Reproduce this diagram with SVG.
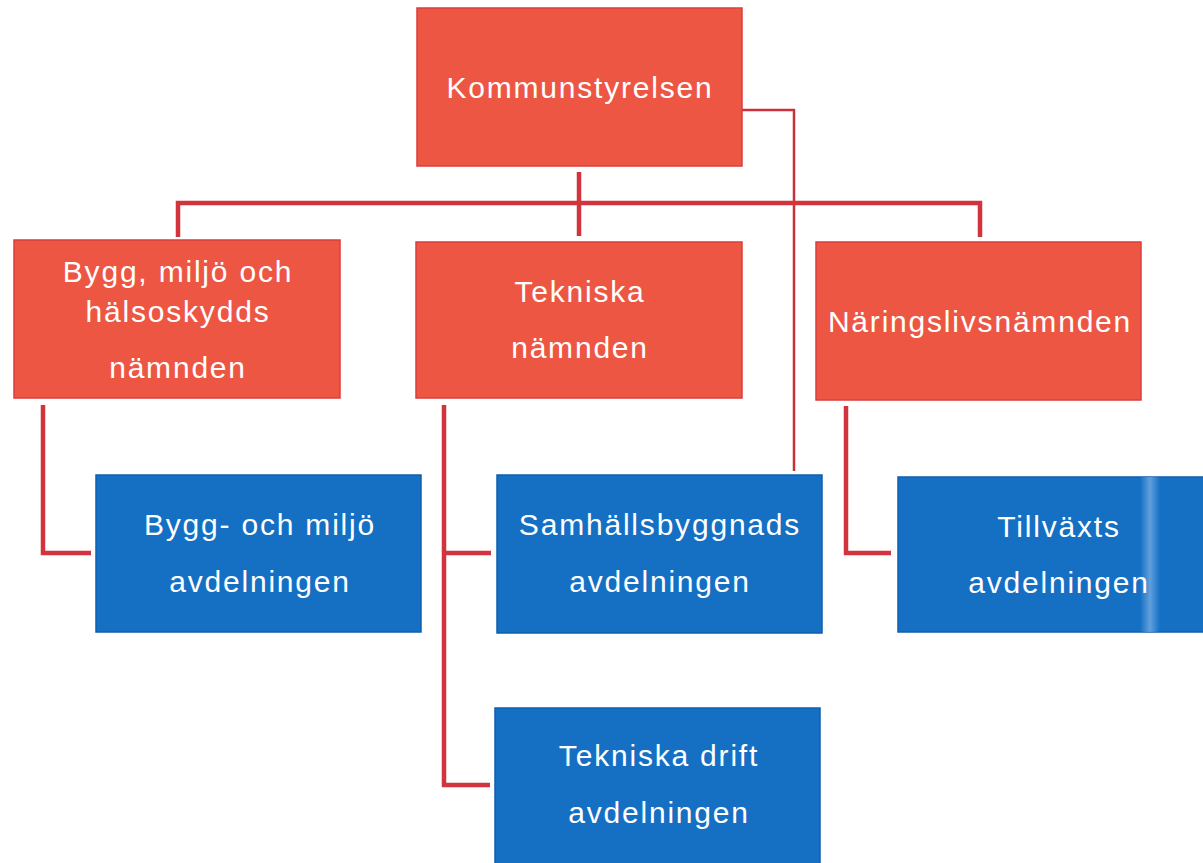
<svg xmlns="http://www.w3.org/2000/svg" width="1203" height="863" viewBox="0 0 1203 863">
<defs>
<linearGradient id="stripe" x1="0" y1="0" x2="1" y2="0">
<stop offset="0" stop-color="#6FA8DF" stop-opacity="0"/>
<stop offset="0.5" stop-color="#6FA8DF" stop-opacity="0.85"/>
<stop offset="1" stop-color="#6FA8DF" stop-opacity="0"/>
</linearGradient>
</defs>
<style>
.red{fill:#EE5644;stroke:#DC3E3C;stroke-width:1.5}
.blue{fill:#1570C4;stroke:#0E5FAE;stroke-width:1.5}
.t{font-family:"Liberation Sans",Arial,sans-serif;font-size:30px;fill:#FFFFFF;text-anchor:middle;letter-spacing:1.8px}
.c{fill:none;stroke:#D2343E;stroke-width:4.5;stroke-linejoin:miter;stroke-linecap:butt}
.thin{fill:none;stroke:#C8323A;stroke-width:2.5}
</style>
<rect width="1203" height="863" fill="#FFFFFF"/>
<g id="connectors">
<path class="thin" d="M742,110 H794 V471"/>
<path class="c" d="M579,172 V236"/>
<path class="c" d="M178,237 V203 H980 V237"/>
<path class="c" d="M43,405 V553 H91"/>
<path class="c" d="M444,405 V785 H490"/>
<path class="c" d="M444,553 H491"/>
<path class="c" d="M846,406 V553 H891"/>
</g>
<g id="kommunstyrelsen">
<rect class="red" x="417" y="8" width="325" height="158"/>
<text class="t" x="580" y="98">Kommunstyrelsen</text>
</g>
<g id="bygg-namnd">
<rect class="red" x="14" y="240" width="326" height="158"/>
<text class="t" x="178" y="282">Bygg, miljö och</text>
<text class="t" x="178" y="322">hälsoskydds</text>
<text class="t" x="178" y="378">nämnden</text>
</g>
<g id="tekniska-namnd">
<rect class="red" x="416" y="242" width="326" height="156"/>
<text class="t" x="580" y="302">Tekniska</text>
<text class="t" x="580" y="358">nämnden</text>
</g>
<g id="naringsliv-namnd">
<rect class="red" x="816" y="242" width="325" height="158"/>
<text class="t" x="980" y="332">Näringslivsnämnden</text>
</g>
<g id="bygg-avd">
<rect class="blue" x="96" y="475" width="325" height="157"/>
<text class="t" x="260" y="535">Bygg- och miljö</text>
<text class="t" x="260" y="592">avdelningen</text>
</g>
<g id="samhalls-avd">
<rect class="blue" x="497" y="475" width="325" height="158"/>
<text class="t" x="660" y="535">Samhällsbyggnads</text>
<text class="t" x="660" y="592">avdelningen</text>
</g>
<g id="tekniska-drift-avd">
<rect class="blue" x="495" y="708" width="325" height="160"/>
<text class="t" x="659" y="766">Tekniska drift</text>
<text class="t" x="659" y="823">avdelningen</text>
</g>
<g id="tillvaxt-avd">
<rect class="blue" x="898" y="477" width="310" height="155"/>
<rect x="1140" y="477" width="20" height="155" fill="url(#stripe)"/>
<text class="t" x="1059" y="537">Tillväxts</text>
<text class="t" x="1059" y="593">avdelningen</text>
</g>
</svg>
